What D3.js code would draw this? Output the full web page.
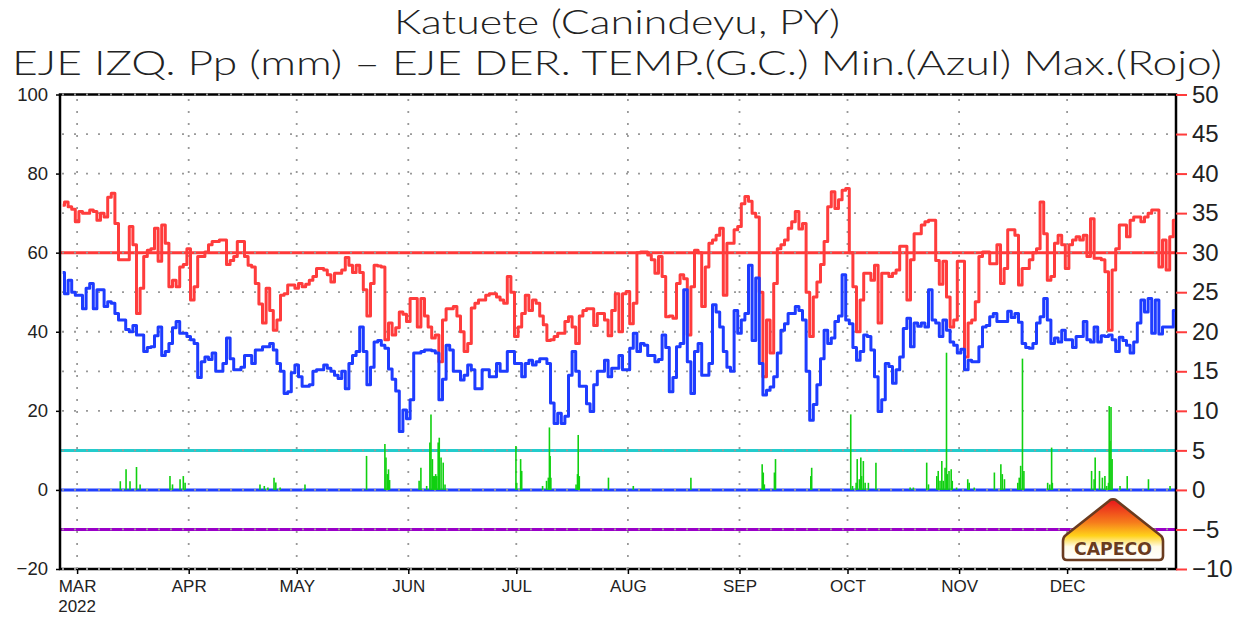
<!DOCTYPE html>
<html>
<head>
<meta charset="utf-8">
<script src="https://cdn.jsdelivr.net/npm/d3@7"></script>
<style>
  html, body { margin: 0; padding: 0; background: #fff; }
  svg { display: block; }
  .ttl { font-family: Lato, "Liberation Sans", sans-serif; font-weight: 300; fill: #222; }
  .lab { font-family: "Liberation Sans", Arial, sans-serif; fill: #222; }
</style>
</head>
<body>
<svg id="chart" width="1244" height="620"></svg>
<script>
// ---- data ----
const station = 'Katuete (Canindeyu, PY)';
const subtitle = 'EJE IZQ. Pp (mm) \u2013 EJE DER. TEMP.(G.C.) Min.(Azul) Max.(Rojo)';
const firstDay = new Date(2022, 1, 25); // first daily value

// daily maximum temperature (deg C), red
const tmax = [
  36, 36.4, 35.8, 35.5, 33.9, 35.2, 35, 35, 35.4, 35.2,
  34.1, 35, 34.5, 37, 37.5, 33.7, 29.1, 29.1, 29.1, 33.3,
  31, 22.3, 25.5, 29.5, 30.3, 30.5, 33.1, 28.9, 33.5, 31.2,
  25.7, 26.5, 25.7, 28.2, 28.5, 30.5, 24, 25.7, 29.5, 29.5,
  30.1, 31, 31.4, 31.4, 31.6, 31.6, 28.5, 29, 29.5, 31.4,
  31.4, 29.5, 28.4, 28.2, 26.1, 23.5, 21.1, 25.5, 22.7, 20.2,
  21.5, 24.6, 24.8, 25.9, 25.9, 25.5, 26.1, 25.7, 26, 26.5,
  27, 28, 28, 27.8, 27.2, 26.3, 27.4, 27.4, 27.8, 29.4,
  28.4, 27.5, 28.4, 27.5, 25.3, 22, 26.1, 28.4, 28.3, 28.2,
  19, 21.1, 19.6, 20.5, 22.5, 22.2, 21.3, 24.2, 24.2, 20.6,
  24.2, 22, 20.6, 19.2, 19.6, 16.2, 21.5, 22.9, 22.9, 23.2,
  22, 20, 17.5, 18.5, 23, 23.6, 24, 24, 24.6, 24.8,
  24.8, 24.4, 24, 23.6, 27, 25, 19.4, 20.6, 22.3, 24.6,
  22.7, 24, 23.6, 22, 20.9, 18.9, 19, 19.4, 19.8, 19.8,
  21.3, 21.9, 20.6, 18.5, 22, 22.7, 22.9, 22.9, 20.8, 22.3,
  22.3, 21.5, 19.5, 22.7, 24.8, 20, 24.8, 25.1, 21, 23.6,
  30, 30.1, 30.1, 29.7, 29.1, 27.4, 29.5, 27, 21.9, 22,
  21.7, 26.1, 27.2, 26.7, 19.6, 25.7, 30.3, 30, 23.2, 28.2,
  31.2, 31.6, 32.2, 33.1, 24.6, 31.2, 31.2, 32.9, 33.3, 36.2,
  37.1, 36.5, 35, 34.5, 25, 14.3, 21.5, 17.3, 26.1, 30.5,
  31, 31.6, 33.1, 33.9, 35.2, 33, 33.7, 25, 19.4, 24.4,
  26.3, 28.5, 31.4, 35.8, 37.7, 35.6, 36.7, 37.9, 38.1, 30,
  25.7, 20, 24, 27.4, 27.4, 26.5, 28.4, 21.1, 27.4, 27.4,
  27, 27.4, 27.8, 30.8, 30.8, 24, 29.1, 32.4, 32.4, 33.5,
  33.9, 34.1, 34.1, 29, 26, 28.9, 24.4, 20.6, 21.5, 28.9,
  28.9, 16.8, 21.1, 21.5, 23.8, 29.5, 30.1, 30.1, 28.6, 28.6,
  31, 26.1, 28, 32.9, 32.9, 32.2, 25.9, 28, 28, 29.1,
  30, 30.5, 36.4, 32.4, 26.5, 27, 31.2, 32.2, 31, 28,
  31, 31.6, 32, 31.6, 32.2, 29.5, 34.3, 29.3, 29.3, 29.1,
  27.6, 20.2, 27.8, 30.5, 33.5, 33.5, 32, 34.1, 34.5, 34.5,
  33.9, 34.5, 35, 35.4, 35.4, 28.2, 31.6, 27.8, 32, 34.1
];

// daily minimum temperature (deg C), blue
const tmin = [
  27.5, 24.8, 26.5, 25, 24.6, 24.6, 22.9, 25.5, 26.1, 22.9,
  25.3, 25.3, 23.2, 23.8, 23.6, 22.3, 21.5, 21.5, 20.3, 20,
  20.8, 19.6, 19.6, 17.5, 18, 18.1, 19.5, 20.6, 17, 17.5,
  18.5, 20.5, 21.3, 19.8, 19.8, 19.4, 19, 18.5, 14.2, 16.2,
  16.8, 16.5, 17.3, 15, 15, 16, 19.2, 16.6, 15.2, 15.2,
  15.5, 17, 17, 16, 17.7, 17.7, 18.1, 18.1, 18.5, 17.7,
  16, 15, 12.2, 12.4, 14.8, 15.8, 14.3, 13.1, 13.1, 13.3,
  15, 15.2, 15.2, 15.8, 15.4, 15, 14.5, 14.1, 15, 12.8,
  16, 17, 17.5, 20.6, 17.5, 13.3, 15.5, 18.7, 18.9, 18.3,
  17.9, 15.3, 14, 12.5, 7.4, 10.1, 9, 11.4, 17.3, 17.3,
  17.5, 17.7, 17.7, 17.6, 17.3, 11.4, 14, 18.3, 17.7, 15,
  15, 13.9, 14.5, 15.8, 15.2, 12.8, 12.8, 15.2, 15.2, 14.3,
  14.3, 16, 15, 15, 17.5, 17.5, 16, 16, 14.3, 16,
  16.4, 15.8, 16.2, 16.6, 16.6, 16, 11, 8.4, 9.7, 8.4,
  9.3, 14.5, 17.5, 15, 13.1, 13.1, 10.9, 9.9, 13.3, 15,
  15, 16.4, 14.3, 15.4, 15.4, 17, 15.2, 15.2, 17.9, 19.8,
  17.5, 18.5, 18.3, 17, 17, 16.2, 16.5, 19.6, 18, 12.4,
  14.2, 18.1, 18.5, 25.3, 16.2, 12.2, 17.5, 18.5, 14.5, 14.5,
  16, 23.4, 22.5, 20.6, 17.5, 15.5, 15, 22.7, 19.8, 21.5,
  22.3, 28.4, 18.9, 26.8, 16, 12, 12.6, 13, 14.3, 17.3,
  20.2, 21, 22.3, 22.3, 23.2, 22.7, 21.5, 15, 8.8, 10.8,
  13.3, 16.6, 20.2, 18.5, 19.2, 21.3, 22, 27.2, 21.5, 21,
  18, 16.4, 17.5, 19.6, 19.4, 17.7, 14.3, 9.9, 11.4, 16,
  15.6, 13.5, 15.2, 16.8, 20.4, 21.7, 18.1, 21.1, 20.7, 21.1,
  20.6, 25.3, 21.5, 21.1, 19.4, 21.5, 20.2, 18.7, 18.3, 17.3,
  17.8, 15.2, 16.4, 16.2, 16.2, 18.1, 20.6, 20.8, 21.9, 22.3,
  21.3, 21.3, 21.3, 22.6, 21.8, 22.3, 21.2, 18.5, 18, 17.9,
  18.5, 21.1, 21.9, 24.2, 21.5, 18.5, 19.2, 18.7, 20.2, 19,
  19, 18, 19.4, 19.4, 21.3, 19, 18.7, 20.6, 18.7, 19.5,
  19.4, 19.6, 19, 17.5, 19.3, 18.9, 18.3, 17.3, 18.7, 21.1,
  24, 22.5, 24.2, 19.8, 24, 19.7, 20.6, 20.6, 20.6, 22.7
];

// precipitation events: [days after firstDay, mm]
const rain = [
  [16, 2.2], [17.6, 5.2], [18.7, 2.2], [20.5, 5.8], [21.5, 1.4], [29.8, 3.5], [30.5, 1.4],
  [32.6, 2.7], [33.5, 3.5], [34, 1.8],
  [54.8, 1.4], [56, 1], [57, 0.6], [58.7, 3.1], [59.2, 1.9], [60.4, 0.6], [67.3, 1.4],
  [84.4, 8.6], [89.5, 11.6], [89.8, 8.2], [90.2, 4], [90.5, 5.2], [90.8, 2.5], [99, 2.3],
  [99.5, 5.6], [101.1, 1], [102, 12], [102.3, 19.1], [102.7, 7.8], [103, 3.5], [103.3, 3.5],
  [103.6, 4], [103.9, 3.5], [104.3, 12], [104.6, 13.2], [105.1, 8.2], [105.7, 6.9], [106.2, 1.4],
  [125.9, 11.1], [126.1, 1.8], [127.2, 7.8], [127.5, 4.8], [133.3, 1], [134.4, 2.3], [134.9, 3.1],
  [135.2, 15.8], [135.4, 8.6], [135.6, 3.1], [142.6, 1.4], [143, 4], [143.2, 13.9], [143.5, 3.5],
  [151.6, 3.1], [158.5, 1],
  [174.5, 3.1], [194.3, 6.5], [194.6, 4.4], [194.9, 1.4], [197.7, 4.4], [198, 7.8],
  [207.8, 3.5], [208.05, 5.6], [218.9, 19.1], [219.4, 1], [220.4, 1.8], [220.7, 7.8], [221.3, 2.7],
  [221.7, 8.2], [221.9, 3.5], [222.4, 7.3], [222.9, 1.8], [223.8, 1.8], [225.9, 6.9], [235.4, 0.6],
  [236.3, 0.6], [240, 6.9], [240.5, 1.4],
  [242.8, 3.5], [243.2, 4.8], [243.7, 2.3], [244.2, 7.3], [244.6, 2.3], [245.1, 5.6], [245.5, 34.7],
  [245.7, 4], [246.2, 4.8], [246.8, 5.2], [247.1, 2.3], [248.3, 0.6], [251.4, 2.7], [251.8, 1.8],
  [253.2, 0.6], [258.8, 4.4], [260.6, 6.5], [261, 4], [261.6, 2.7], [265.3, 1.8], [265.7, 3.1],
  [266.1, 6.1], [266.6, 33.2], [267, 4.8], [273.6, 1.8], [274.2, 1.4], [274.7, 10.7], [274.9, 1.8],
  [285.8, 4.8], [286.5, 2.7], [286.8, 8.2], [288, 4.8], [288.8, 3.1], [289.5, 3.5], [290, 1],
  [290.5, 1.8], [290.7, 21.2], [290.9, 12.4], [291.2, 21], [291.5, 7.8], [293.7, 1], [295.7, 3.5],
  [301.6, 2.7], [307.6, 1]
];

// reference lines on the temperature axis: value, colour
const refLines = [[30, '#ff3838'], [5, '#22cccc'], [0, '#2040ff'], [-5, '#9a00c8']];

// ---- layout ----
const svg = d3.select('#chart');
const plotL = 60, plotR = 1176, plotT = 94.5, plotB = 569;

const x = d3.scaleTime()
  .domain([new Date(2022, 1, 24, 6), new Date(2022, 11, 31, 6)])
  .range([plotL, plotR]);
const yPp = d3.scaleLinear().domain([-20, 100]).range([plotB, plotT]);
const yT = d3.scaleLinear().domain([-10, 50]).range([plotB, plotT]);

const dayAt = (i) => new Date(firstDay.getTime() + i * 864e5);

// titles
svg.append('text').attr('class', 'ttl')
  .attr('x', 617).attr('y', 34).attr('text-anchor', 'middle')
  .attr('font-size', 33).attr('textLength', 446).attr('lengthAdjust', 'spacingAndGlyphs')
  .text(station);
svg.append('text').attr('class', 'ttl')
  .attr('x', 12).attr('y', 75)
  .attr('font-size', 33).attr('textLength', 1210).attr('lengthAdjust', 'spacingAndGlyphs')
  .text(subtitle);

// reference lines
svg.append('g').selectAll('line').data(refLines).join('line')
  .attr('x1', plotL).attr('x2', plotR)
  .attr('y1', (d) => yT(d[0])).attr('y2', (d) => yT(d[0]))
  .attr('stroke', (d) => d[1]).attr('stroke-width', 3);

// frame
svg.append('rect')
  .attr('x', plotL).attr('y', plotT).attr('width', plotR - plotL).attr('height', plotB - plotT)
  .attr('fill', 'none').attr('stroke', '#000').attr('stroke-width', 2.5);

// dotted grid
const months = d3.timeMonth.range(new Date(2022, 2, 1), new Date(2022, 11, 2));
const grid = svg.append('g').attr('stroke', '#999').attr('stroke-width', 1.8)
  .attr('stroke-dasharray', '2,10');
grid.selectAll('.h').data(d3.range(-20, 101, 10)).join('line').attr('class', 'h')
  .attr('x1', plotL + 2).attr('x2', plotR)
  .attr('y1', (d) => yPp(d)).attr('y2', (d) => yPp(d));
grid.selectAll('.v').data(months).join('line').attr('class', 'v')
  .attr('x1', (d) => x(d)).attr('x2', (d) => x(d))
  .attr('y1', plotB).attr('y2', plotT);

// precipitation bars
svg.append('g').selectAll('line').data(rain).join('line')
  .attr('x1', (d) => x(dayAt(d[0]))).attr('x2', (d) => x(dayAt(d[0])))
  .attr('y1', yPp(0)).attr('y2', (d) => yPp(d[1]))
  .attr('stroke', '#10d010').attr('stroke-width', 1.6);

// temperature lines
const line = d3.line()
  .curve(d3.curveStep)
  .x((d, i) => x(dayAt(i)))
  .y((d) => yT(d));
svg.append('path').datum(tmax)
  .attr('d', line).attr('fill', 'none')
  .attr('stroke', '#ff3c3c').attr('stroke-width', 3).attr('stroke-linejoin', 'round');
svg.append('path').datum(tmin)
  .attr('d', line).attr('fill', 'none')
  .attr('stroke', '#1e3cff').attr('stroke-width', 3).attr('stroke-linejoin', 'round');

// left axis (Pp)
const axL = svg.append('g').attr('transform', `translate(${plotL},0)`)
  .call(d3.axisLeft(yPp).tickValues(d3.range(-20, 101, 20)).tickSize(4).tickPadding(8));
axL.select('.domain').remove();
axL.selectAll('line').attr('stroke', '#000').attr('stroke-width', 1.5);
axL.selectAll('text').attr('class', 'lab').attr('font-size', 18.5).attr('fill', '#222');

// right axis (temperature)
const axR = svg.append('g').attr('transform', `translate(${plotR},0)`)
  .call(d3.axisRight(yT).tickValues(d3.range(-10, 51, 5)).tickSize(11).tickPadding(5));
axR.select('.domain').remove();
axR.selectAll('line').attr('stroke', '#ff3c3c').attr('stroke-width', 2);
axR.selectAll('text').attr('class', 'lab').attr('font-size', 24).attr('fill', '#ff3c3c');

// bottom axis (months)
const axB = svg.append('g').attr('transform', `translate(0,${plotB})`)
  .call(d3.axisBottom(x).tickValues(months).tickSize(5).tickPadding(6)
    .tickFormat((d) => d3.timeFormat('%b')(d).toUpperCase()));
axB.select('.domain').remove();
axB.selectAll('line').attr('stroke', '#000').attr('stroke-width', 1.5);
axB.selectAll('text').attr('class', 'lab').attr('font-size', 17).attr('fill', '#333');
svg.append('text').attr('class', 'lab')
  .attr('x', x(months[0])).attr('y', 612).attr('text-anchor', 'middle')
  .attr('font-size', 17).attr('fill', '#333').text('2022');

// CAPECO logo
const defs = svg.append('defs');
const grad = defs.append('linearGradient').attr('id', 'logoGrad')
  .attr('x1', 0).attr('y1', 0).attr('x2', 0).attr('y2', 1);
grad.append('stop').attr('offset', '0%').attr('stop-color', '#e8141c');
grad.append('stop').attr('offset', '38%').attr('stop-color', '#f67c1c');
grad.append('stop').attr('offset', '60%').attr('stop-color', '#ffd21a');
grad.append('stop').attr('offset', '78%').attr('stop-color', '#fffbe8');
grad.append('stop').attr('offset', '100%').attr('stop-color', '#ffffff');
const logo = svg.append('g');
logo.append('path')
  .attr('d', 'M1113,499.5 Q1115,499 1117,501 L1160,535 Q1163,537 1163,541 L1163,556 Q1163,560 1159,560 '
    + 'L1067,560 Q1063,560 1063,556 L1063,541 Q1063,537 1066,535 L1109,501 Q1111,499 1113,499.5 Z')
  .attr('fill', 'url(#logoGrad)').attr('stroke', '#6a3b1f').attr('stroke-width', 2.6);
logo.append('text')
  .attr('x', 1113).attr('y', 554.5).attr('text-anchor', 'middle')
  .attr('font-family', '"DejaVu Sans", sans-serif').attr('font-weight', 'bold')
  .attr('font-size', 17).attr('fill', '#6a3b1f')
  .attr('textLength', 78).attr('lengthAdjust', 'spacingAndGlyphs')
  .text('CAPECO');
</script>
</body>
</html>
